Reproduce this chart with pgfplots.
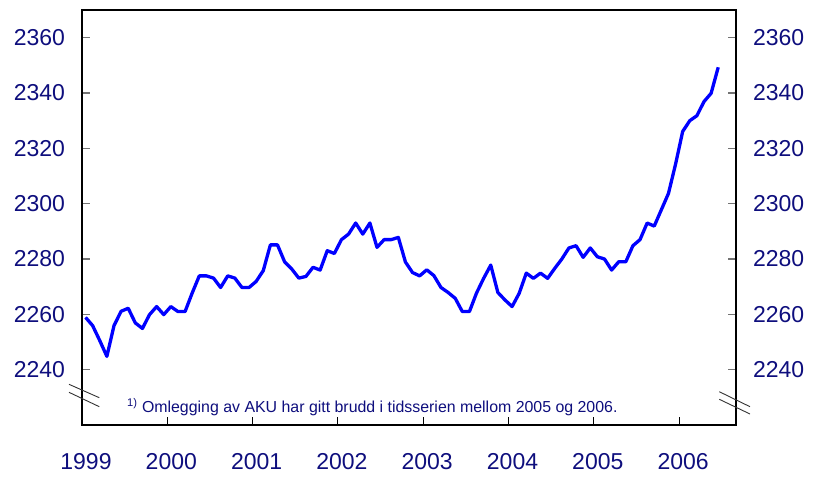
\documentclass[border=0pt]{standalone}
\usepackage{fontspec}
\setmainfont{Liberation Sans}
\usepackage{pgfplots}
\pgfplotsset{compat=1.18}
\usepackage{pgfplotstable}
\usetikzlibrary{calc}
\definecolor{labnavy}{RGB}{14,14,125}
\definecolor{linblue}{RGB}{0,0,255}

% monthly, 1999M1 .. 2006M6, x = month index + 0.5
\pgfplotstableread{
m v
0.5 2258.9
1.5 2255.9
2.5 2250.5
3.5 2244.8
4.5 2255.9
5.5 2261.1
6.5 2262.2
7.5 2256.9
8.5 2254.9
9.5 2259.9
10.5 2262.8
11.5 2259.9
12.5 2262.8
13.5 2261.0
14.5 2261.0
15.5 2267.7
16.5 2273.9
17.5 2273.9
18.5 2273.1
19.5 2269.7
20.5 2273.9
21.5 2273.1
22.5 2269.7
23.5 2269.7
24.5 2271.9
25.5 2275.8
26.5 2285.1
27.5 2285.1
28.5 2279.0
29.5 2276.4
30.5 2273.1
31.5 2273.7
32.5 2277.0
33.5 2276.0
34.5 2283.0
35.5 2282.0
36.5 2287.0
37.5 2289.0
38.5 2293.0
39.5 2289.0
40.5 2293.0
41.5 2284.2
42.5 2287.0
43.5 2287.0
44.5 2287.8
45.5 2278.9
46.5 2275.1
47.5 2273.9
48.5 2276.1
49.5 2274.0
50.5 2269.7
51.5 2267.9
52.5 2265.8
53.5 2261.0
54.5 2261.0
55.5 2267.7
56.5 2273.0
57.5 2277.8
58.5 2267.9
59.5 2265.2
60.5 2262.8
61.5 2267.6
62.5 2274.9
63.5 2273.0
64.5 2274.9
65.5 2273.0
66.5 2276.6
67.5 2280.0
68.5 2284.0
69.5 2284.8
70.5 2280.6
71.5 2284.0
72.5 2280.8
73.5 2280.0
74.5 2276.0
75.5 2279.0
76.5 2279.0
77.5 2284.8
78.5 2287.0
79.5 2293.0
80.5 2291.9
81.5 2297.8
82.5 2303.7
83.5 2314.3
84.5 2326.1
85.5 2330.0
86.5 2331.8
87.5 2336.9
88.5 2339.9
89.5 2349.3
}\aku

\pgfplotsset{
  akubase/.style={
    at={(0pt,0pt)}, anchor=south west,
    scale only axis, width=654pt, height=415pt,
    xmin=0, xmax=92, ymin=2220, ymax=2370,
    ytick={2240,2260,...,2360},
    /pgf/number format/assume math mode=true,
    /pgf/number format/1000 sep={},
    ticklabel style={font=\fontsize{23}{27}\selectfont, text=labnavy},
  },
}

\begin{document}
\begin{tikzpicture}
\path[use as bounding box] (-82pt,-55pt) rectangle (731pt,425pt);

\begin{axis}[akubase,
    axis line style={black, line width=1.2pt},
    xtick={0,12,...,84},
    xticklabels={1999,2000,2001,2002,2003,2004,2005,2006},
    xtick pos=bottom, ytick pos=both,
    tick align=inside,
    major tick length=8pt,
    xtick style={black, line width=1pt},
    ytick style={black!55, line width=1.3pt},
    xticklabel style={yshift=-25pt, xshift=4pt},
    yticklabel style={xshift=-13.5pt},
    clip=false,
  ]
  \addplot[linblue, line width=3.3pt, line join=round] table[x=m, y=v] {\aku};
  \draw[black, line width=2.2pt] (rel axis cs:0,0) -- (rel axis cs:1,0);
  \node[anchor=base west, text=labnavy, font=\fontsize{15.9}{19}\selectfont, inner sep=0pt]
    at ($(rel axis cs:0,0)+(45pt,12.5pt)$)
    {\textsuperscript{1)} Omlegging av AKU har gitt brudd i tidsserien mellom 2005 og 2006.};
  % axis break marks
  \draw[black!80, line width=0.9pt] ($(rel axis cs:0,0)+(-13pt,40.7pt)$) -- ($(rel axis cs:0,0)+(17.3pt,27.3pt)$);
  \draw[black!80, line width=0.9pt] ($(rel axis cs:0,0)+(-13pt,32.7pt)$) -- ($(rel axis cs:0,0)+(17.3pt,18.3pt)$);
  \draw[black!80, line width=0.9pt] ($(rel axis cs:1,0)+(-16.7pt,33.3pt)$) -- ($(rel axis cs:1,0)+(14pt,18.3pt)$);
  \draw[black!80, line width=0.9pt] ($(rel axis cs:1,0)+(-16.7pt,25.7pt)$) -- ($(rel axis cs:1,0)+(14pt,11pt)$);
\end{axis}

\begin{axis}[akubase,
    axis line style={draw=none},
    xtick=\empty,
    ytick style={draw=none},
    yticklabel pos=right,
    yticklabel style={xshift=13.5pt},
  ]
  \addplot[draw=none] coordinates {(0,2300)};
\end{axis}
\end{tikzpicture}
\end{document}
